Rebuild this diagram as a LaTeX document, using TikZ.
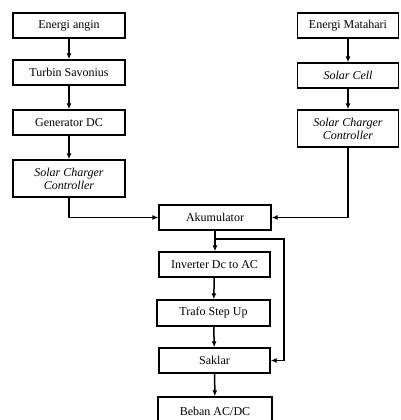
\documentclass[tikz,border=0pt]{standalone}
\usepackage{fontspec}
\setmainfont{Liberation Serif}
\usetikzlibrary{arrows.meta}
\begin{document}
\begin{tikzpicture}[x=1pt,y=-1pt,
  blk/.style={draw,line width=1.4pt,inner sep=0pt,align=center,font=\fontsize{12}{13}\selectfont},
  conn/.style={line width=1.5pt,-{Latex[length=6pt,width=5pt]}}]
\useasboundingbox (0,0) rectangle (400,420);
\fill[white] (0,0) rectangle (400,420);
% left column
\node[blk,minimum width=112pt,minimum height=25pt] (a1) at (69,25.5) {Energi angin};
\node[blk,minimum width=112pt,minimum height=25pt] (a2) at (69,72.5) {Turbin Savonius};
\node[blk,minimum width=112pt,minimum height=25pt] (a3) at (69,122.5) {Generator DC};
\node[blk,minimum width=112pt,minimum height=37pt] (a4) at (69,178.5) {\itshape Solar Charger\\\itshape Controller};
% right column
\node[blk,minimum width=101pt,minimum height=25pt] (b1) at (348,25.5) {Energi Matahari};
\node[blk,minimum width=101pt,minimum height=25pt] (b2) at (348,75.5) {\itshape Solar Cell};
\node[blk,minimum width=101pt,minimum height=37pt] (b3) at (348,128.5) {\itshape Solar Charger\\\itshape Controller};
% middle column
\node[blk,minimum width=112pt,minimum height=25pt] (c1) at (215,217.5) {Akumulator};
\node[blk,minimum width=111pt,minimum height=25pt] (c2) at (214.5,264.5) {Inverter Dc to AC};
\node[blk,minimum width=113pt,minimum height=26pt] (c3) at (213.5,313) {Trafo Step Up};
\node[blk,minimum width=111pt,minimum height=25pt] (c4) at (214.5,360.5) {Saklar};
\node[blk,minimum width=114pt,minimum height=28pt] (c5) at (215,411) {Beban AC/DC};
\coordinate (br) at (c1.south |- 0,239);
% connectors
\draw[conn] (a1) -- (a2);
\draw[conn] (a2) -- (a3);
\draw[conn] (a3) -- (a4);
\draw[conn] (a4.south) |- (c1.west);
\draw[conn] (b1) -- (b2);
\draw[conn] (b2) -- (b3);
\draw[conn] (b3.south) |- (c1.east);
\draw[conn] (c1.south) -- (c1.south |- c2.north);
\draw[conn] (c2) -- (c3);
\draw[conn] (c3) -- (c4);
\draw[conn] (c4) -- (c5);
\draw[conn] (br) -| (284,300) |- (c4.east);
\end{tikzpicture}
\end{document}
